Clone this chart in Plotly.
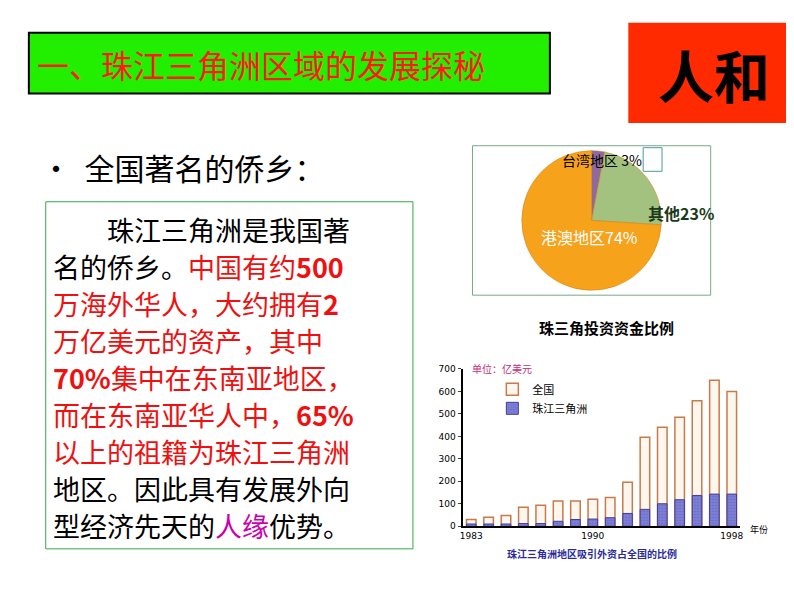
import plotly.graph_objects as go

years = [str(y) for y in range(1983, 1999)]
total = [30, 40, 48, 85, 93, 112, 112, 120, 128, 196, 396, 440, 485, 558, 650, 600]
prd = [10, 10, 10, 12, 12, 22, 30, 32, 38, 57, 75, 100, 118, 137, 143, 143]
pie_labels = ["台湾地区", "其他", "港澳地区"]
pie_values = [3, 23, 74]

W, H = 794, 596
def px(x): return x / W
def py(y): return 1 - y / H

fig = go.Figure()
fig.add_trace(go.Bar(x=years, y=total, name="全国", marker=dict(color="#fff6ee", line=dict(color="#c87a4a", width=1.5)), width=0.55))
fig.add_trace(go.Bar(x=years, y=prd, name="珠江三角洲", marker=dict(color="#7d7fd6", pattern=dict(shape=".", fgcolor="#4a4ca8", size=3), line=dict(color="#3d3f9a", width=1)), width=0.55))
fig.add_trace(go.Pie(labels=pie_labels, values=pie_values, sort=False, direction="clockwise", rotation=0,
                     marker=dict(colors=["#8e6aa0", "#a3c27f", "#f7a21b"], line=dict(color="#d07a10", width=0.5)),
                     textinfo="none", showlegend=False, hoverinfo="skip",
                     domain=dict(x=[px(470), px(700)], y=[py(282), py(140)])))

fig.update_layout(
    width=W, height=H, margin=dict(l=0, r=0, t=0, b=0), paper_bgcolor="white", plot_bgcolor="white",
    barmode="overlay", bargap=0.4,
    xaxis=dict(domain=[px(455), px(735)], tickvals=["1983", "1990", "1998"], ticktext=["1983", "1990", "1998"],
               showline=True, linecolor="black", linewidth=2, tickfont=dict(size=9, color="black", family="DejaVu Sans"), ticks=""),
    yaxis=dict(domain=[py(522), py(362)], range=[0, 700], dtick=100, showline=True, linecolor="black", linewidth=2,
               ticks="outside", ticklen=3, showgrid=False, tickfont=dict(size=9, color="black", family="DejaVu Sans")),
    legend=dict(x=px(485), y=py(368), xanchor="left", yanchor="top", bgcolor="rgba(0,0,0,0)",
                font=dict(size=11, family="Noto Sans CJK SC", color="black")),
    font=dict(family="Noto Sans CJK SC"),
)

shapes = [
    dict(type="rect", xref="paper", yref="paper", x0=px(18), x1=px(543), y0=py(82), y1=py(20), fillcolor="#22ee00", line=dict(color="black", width=2)),
    dict(type="rect", xref="paper", yref="paper", x0=px(622), x1=px(794), y0=py(112), y1=py(10), fillcolor="#ff2a00", line=dict(width=0)),
    dict(type="rect", xref="paper", yref="paper", x0=px(35), x1=px(405), y0=py(545), y1=py(192), fillcolor="white", line=dict(color="#33aa44", width=1)),
    dict(type="rect", xref="paper", yref="paper", x0=px(465), x1=px(705), y0=py(287), y1=py(135), fillcolor="rgba(0,0,0,0)", line=dict(color="#7aa88a", width=1)),
    dict(type="rect", xref="paper", yref="paper", x0=px(637), x1=px(656), y0=py(161), y1=py(137), fillcolor="rgba(0,0,0,0)", line=dict(color="#4a9a9a", width=1)),
]
fig.update_layout(shapes=shapes)

def ann(x, y, text, size, color="black", anchor="left", bold=False, family="Noto Sans CJK SC"):
    if bold:
        text = "<b>" + text + "</b>"
    fig.add_annotation(x=px(x), y=py(y), xref="paper", yref="paper", text=text, showarrow=False,
                       xanchor=anchor, yanchor="middle", font=dict(size=size, color=color, family=family))

ann(24, 52, "一、珠江三角洲区域的发展探秘", 32, "#ff1a1a")
ann(708, 62, "人和", 56, "black", "center", True, "Noto Sans CJK SC")
ann(28, 157, "•  全国著名的侨乡：", 30)

R = "#ee1111"
def r(t): return f"<span style='color:{R}'>{t}</span>"
lines = [
    "　　珠江三角洲是我国著",
    "名的侨乡。" + r("中国有约<b>500</b>"),
    r("万海外华人，大约拥有<b>2</b>"),
    r("万亿美元的资产，其中"),
    r("<b>70%</b>集中在东南亚地区，"),
    r("而在东南亚华人中，<b>65%</b>"),
    r("以上的祖籍为珠江三角洲"),
    "地区。因此具有发展外向",
    "型经济先天的<span style='color:#cc00aa'>人缘</span>优势。",
]
for i, t in enumerate(lines):
    ann(40, 220 + i * 37.7, t, 27)

ann(553, 150, "台湾地区 3%", 14)
ann(640, 203, "其他23%", 16, "#1a3a1a", "left", True)
ann(532, 228, "港澳地区74%", 16, "white")
ann(600, 320, "珠三角投资资金比例", 15, "black", "center", True)
ann(462, 362, "单位：亿美元", 10, "#c0307a")
ann(743, 525, "年份", 9)
ann(585, 550, "<b>珠江三角洲地区吸引外资占全国的比例</b>", 10, "#2a2a9a", "center")

fig.write_html("out.html")
